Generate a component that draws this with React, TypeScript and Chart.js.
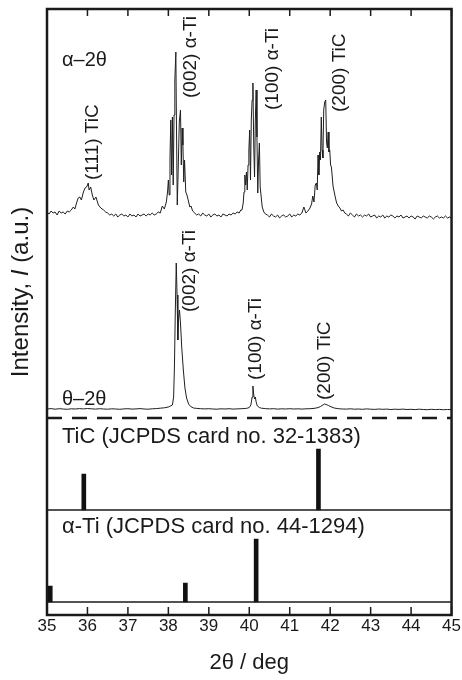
import React, { useEffect, useRef } from 'react';
import { Chart, registerables } from 'chart.js';

Chart.register(...registerables);

const FONT = '"Liberation Sans", Arial, Helvetica, sans-serif';
const INK = '#1a1a1a';

// ---- axis ----
const xTickValues = [35, 36, 37, 38, 39, 40, 41, 42, 43, 44, 45];

// ---- alpha-2theta pattern (angle, intensity a.u.) ----
const alphaAngle = [
  35.00, 35.05, 35.10, 35.15, 35.20, 35.25, 35.30, 35.35, 35.40, 35.45, 35.50, 35.55, 35.60,
  35.65, 35.69, 35.73, 35.77, 35.81, 35.85, 35.90, 35.94, 35.98, 36.02, 36.04, 36.08, 36.12, 36.16, 36.21, 36.27, 36.33, 36.40, 36.45,
  36.50, 36.55, 36.60, 36.65, 36.70, 36.75, 36.80, 36.85, 36.90, 36.95, 37.00, 37.05, 37.10, 37.15, 37.20, 37.25, 37.30, 37.35, 37.40, 37.45, 37.50, 37.55, 37.60, 37.65, 37.70, 37.75, 37.80, 37.85, 37.90,
  37.95, 37.98, 38.00, 38.02, 38.04, 38.06, 38.08, 38.10, 38.12, 38.14, 38.16, 38.185, 38.20, 38.22, 38.24, 38.27, 38.30, 38.32, 38.34, 38.36, 38.38, 38.40, 38.43, 38.46, 38.49, 38.53, 38.56, 38.60,
  38.65, 38.70, 38.75, 38.80, 38.85, 38.90, 38.95, 39.00, 39.05, 39.10, 39.15, 39.20, 39.25, 39.30, 39.35, 39.40, 39.45, 39.50, 39.55, 39.60, 39.65, 39.70, 39.75, 39.79,
  39.82, 39.85, 39.87, 39.89, 39.91, 39.93, 39.95, 39.97, 39.99, 40.01, 40.03, 40.05, 40.07, 40.09, 40.11, 40.13, 40.15, 40.17, 40.19, 40.21, 40.23, 40.25, 40.27, 40.29, 40.32, 40.36, 40.40,
  40.45, 40.50, 40.55, 40.60, 40.65, 40.70, 40.75, 40.80, 40.85, 40.90, 40.95, 41.00, 41.05, 41.10, 41.15, 41.20, 41.25, 41.30, 41.35, 41.40, 41.45, 41.50,
  41.54, 41.57, 41.60, 41.63, 41.66, 41.68, 41.70, 41.72, 41.74, 41.76, 41.78, 41.80, 41.82, 41.84, 41.865, 41.89, 41.91, 41.93, 41.95, 41.97, 41.99, 42.01, 42.03, 42.05, 42.07, 42.10, 42.13, 42.16, 42.20, 42.24, 42.28, 42.32, 42.36,
  42.40, 42.45, 42.50, 42.55, 42.60, 42.65, 42.70, 42.75, 42.80, 42.85, 42.90, 42.95, 43.00, 43.05, 43.10, 43.15, 43.20, 43.25, 43.30, 43.35, 43.40, 43.45, 43.50, 43.55, 43.60, 43.65, 43.70, 43.75, 43.80, 43.85, 43.90, 43.95,
  44.00, 44.05, 44.10, 44.15, 44.20, 44.25, 44.30, 44.35, 44.40, 44.45, 44.50, 44.55, 44.60, 44.65, 44.70, 44.75, 44.80, 44.85, 44.90, 44.95, 45.00,
];
const alphaCounts = [
  8, 6, 9, 7, 8, 5, 9, 7, 8, 6, 9, 8, 10,
  13, 11, 17, 22, 23, 20, 28, 32, 33, 37, 30, 33, 25, 20, 23, 15, 12, 10, 8,
  7, 5, 6, 4, 6, 3, 5, 6, 4, 5, 3, 6, 4, 5, 3, 6, 4, 5, 6, 4, 6, 5, 7, 5, 6, 8, 7, 14, 11,
  18, 28, 40, 25, 62, 100, 45, 103, 35, 105, 140, 168, 95, 15, 45, 98, 110, 55, 92, 75, 38, 60, 28, 25, 20, 13, 14, 9,
  7, 5, 6, 4, 7, 5, 4, 6, 3, 5, 6, 4, 5, 3, 6, 5, 4, 6, 5, 7, 6, 8, 7, 10,
  10, 17, 28, 45, 35, 48, 30, 55, 70, 90, 40, 100, 120, 137, 75, 43, 100, 130, 83, 27, 60, 77, 33, 25, 13, 8, 6,
  5, 3, 6, 4, 3, 5, 2, 4, 5, 3, 4, 6, 3, 5, 4, 6, 5, 7, 13, 7, 9, 12,
  16, 24, 18, 35, 37, 30, 65, 45, 68, 60, 103, 70, 62, 110, 118, 120, 78, 72, 88, 68, 70, 55, 53, 44, 34, 28, 22, 17, 14, 12, 9, 10, 7,
  6, 4, 7, 5, 3, 6, 4, 5, 3, 5, 4, 6, 3, 4, 5, 2, 4, 3, 5, 2, 4, 3, 5, 4, 2, 4, 3, 5, 2, 3, 4, 2,
  4, 3, 1, 4, 3, 2, 4, 3, 2, 4, 3, 1, 3, 4, 2, 3, 2, 4, 2, 3, 2,
];

// ---- theta-2theta pattern (angle, intensity a.u.) ----
const thetaAngle = [
  35.0, 35.1, 35.2, 35.3, 35.4, 35.5, 35.6, 35.7, 35.8, 35.9, 36.0, 36.1, 36.2, 36.3, 36.4, 36.5, 36.6, 36.7, 36.8, 36.9,
  37.0, 37.1, 37.2, 37.3, 37.4, 37.5, 37.6, 37.7, 37.8, 37.9, 38.0, 38.05, 38.10, 38.13, 38.15, 38.17, 38.195, 38.215, 38.235, 38.25,
  38.275, 38.30, 38.33, 38.37, 38.41, 38.45, 38.50, 38.55, 38.62, 38.7, 38.8, 38.9, 39.0, 39.1, 39.2, 39.3, 39.4, 39.5, 39.6, 39.7,
  39.8, 39.9, 39.95, 40.00, 40.04, 40.07, 40.09, 40.11, 40.13, 40.15, 40.17, 40.20, 40.25, 40.3, 40.4, 40.5, 40.6, 40.7, 40.8, 40.9,
  41.0, 41.1, 41.2, 41.3, 41.4, 41.5, 41.6, 41.7, 41.76, 41.82, 41.86, 41.90, 41.96, 42.02, 42.1, 42.2, 42.3, 42.4, 42.5, 42.6,
  42.7, 42.8, 42.9, 43.0, 43.1, 43.2, 43.3, 43.4, 43.5, 43.6, 43.7, 43.8, 43.9, 44.0, 44.1, 44.2, 44.3, 44.4, 44.5, 44.6,
  44.7, 44.8, 44.9, 45.0,
];
const thetaCounts = [
  6, 6.4, 5.8, 6.3, 6, 5.7, 6.2, 6, 6.4, 6.1, 6.5, 6.2, 5.9, 6.3, 6, 5.8, 6.2, 6, 5.7, 6.1,
  6.3, 5.9, 6.1, 6.4, 6, 5.8, 6.2, 6.4, 6.8, 7.2, 8, 9, 10, 18, 48, 100, 152, 120, 75, 95,
  105, 92, 68, 45, 27, 17, 11, 8.5, 7, 6.6, 6.3, 6.1, 6.3, 6, 5.8, 6.2, 6, 6.3, 5.9, 6.1,
  6.3, 6.5, 6.8, 7.5, 10, 18, 29, 20, 16, 18, 13, 9, 7.5, 6.8, 6.4, 6.1, 6.3, 5.9, 6.2, 6,
  6.3, 6, 6.2, 5.9, 6.2, 6.3, 6.6, 7.4, 8.5, 10, 11, 10.5, 9.5, 8.2, 7, 6.3, 6, 5.9, 6.2, 5.8,
  6, 5.7, 6.1, 5.8, 5.6, 6, 5.7, 5.9, 5.5, 5.8, 5.6, 5.9, 5.5, 5.7, 5.4, 5.8, 5.5, 5.3, 5.7, 5.4,
  5.6, 5.3, 5.5, 5.4,
];

// ---- JCPDS reference cards ----
const ticCardAngle = [35.91, 41.71];
const ticCardIntensity = [36, 61];
const tiCardAngle = [35.08, 38.42, 40.17];
const tiCardIntensity = [16, 19, 63];

// ---- stacking levels (a.u.) ----
const ALPHA_OFFSET = 395;
const THETA_OFFSET = 200;
const DASH_LEVEL = 197;
const TIC_BASE = 105;
const TI_BASE = 13;
const Y_MAX = 606;

// ---- annotations ----
const peakLabelText = ['(111) TiC', '(002) α-Ti', '(100) α-Ti', '(200) TiC', '(002) α-Ti', '(100) α-Ti', '(200) TiC'];
const peakLabelAngle = [36.12, 38.55, 40.57, 42.23, 38.53, 40.16, 41.86];
const peakLabelLevel = [435, 517, 505, 503, 303, 235, 215];

const panelLabelText = ['α–2θ', 'θ–2θ'];
const panelLabelLevel = [549, 210.5];
const cardLabelText = ['TiC (JCPDS card no. 32-1383)', 'α-Ti (JCPDS card no. 44-1294)'];
const cardLabelLevel = [172, 82];
const LABEL_ANGLE = 35.37;

const annotPlugin = {
  id: 'annot',
  afterDatasetsDraw(chart: any) {
    const { ctx, chartArea: a, scales } = chart;
    const x = scales.x;
    const y = scales.y;
    ctx.save();
    // frame
    ctx.strokeStyle = INK;
    ctx.lineWidth = 2.5;
    ctx.strokeRect(a.left, a.top, a.right - a.left, a.bottom - a.top);
    // inward ticks top & bottom
    ctx.lineWidth = 1.5;
    for (const v of xTickValues) {
      const px = x.getPixelForValue(v);
      ctx.beginPath();
      ctx.moveTo(px, a.bottom);
      ctx.lineTo(px, a.bottom - 8);
      ctx.moveTo(px, a.top);
      ctx.lineTo(px, a.top + 7);
      ctx.stroke();
    }
    ctx.fillStyle = INK;
    // rotated peak labels
    ctx.font = `19px ${FONT}`;
    ctx.textAlign = 'left';
    ctx.textBaseline = 'middle';
    peakLabelText.forEach((t, i) => {
      ctx.save();
      ctx.translate(x.getPixelForValue(peakLabelAngle[i]), y.getPixelForValue(peakLabelLevel[i]));
      ctx.rotate(-Math.PI / 2);
      ctx.fillText(t, 0, 0);
      ctx.restore();
    });
    // panel labels
    ctx.textBaseline = 'alphabetic';
    ctx.font = `20px ${FONT}`;
    panelLabelText.forEach((t, i) => {
      ctx.fillText(t, x.getPixelForValue(LABEL_ANGLE), y.getPixelForValue(panelLabelLevel[i]));
    });
    ctx.font = `22px ${FONT}`;
    cardLabelText.forEach((t, i) => {
      ctx.fillText(t, x.getPixelForValue(LABEL_ANGLE), y.getPixelForValue(cardLabelLevel[i]));
    });
    // y-axis title with italic I
    const parts = [
      { t: 'Intensity, ', f: `24px ${FONT}` },
      { t: 'I', f: `italic 24px ${FONT}` },
      { t: ' (a.u.)', f: `24px ${FONT}` },
    ];
    let total = 0;
    const widths = parts.map((p) => {
      ctx.font = p.f;
      const w = ctx.measureText(p.t).width;
      total += w;
      return w;
    });
    ctx.save();
    ctx.translate(a.left - 26, (a.top + a.bottom) / 2 - 20);
    ctx.rotate(-Math.PI / 2);
    ctx.textBaseline = 'middle';
    let cx = -total / 2;
    parts.forEach((p, i) => {
      ctx.font = p.f;
      ctx.fillText(p.t, cx, 0);
      cx += widths[i];
    });
    ctx.restore();
    ctx.restore();
  },
};

export default function App() {
  const canvasRef = useRef<HTMLCanvasElement | null>(null);

  useEffect(() => {
    const canvas = canvasRef.current;
    if (!canvas) return;
    const hline = (level: number) => [
      { x: 35, y: level },
      { x: 45, y: level },
    ];
    const sticks = [
      ...ticCardAngle.map((ang, i) => ({ x: ang, y: [TIC_BASE, TIC_BASE + ticCardIntensity[i]] })),
      ...tiCardAngle.map((ang, i) => ({ x: ang, y: [TI_BASE, TI_BASE + tiCardIntensity[i]] })),
    ];
    const chart = new Chart(canvas, {
      type: 'line',
      data: {
        datasets: [
          {
            label: 'α–2θ',
            data: alphaAngle.map((ang, i) => ({ x: ang, y: alphaCounts[i] + ALPHA_OFFSET })),
            borderColor: '#202020',
            borderWidth: 1,
            pointRadius: 0,
            tension: 0,
          },
          {
            label: 'θ–2θ',
            data: thetaAngle.map((ang, i) => ({ x: ang, y: thetaCounts[i] + THETA_OFFSET })),
            borderColor: '#202020',
            borderWidth: 1,
            pointRadius: 0,
            tension: 0,
          },
          {
            label: 'separator',
            data: hline(DASH_LEVEL),
            borderColor: INK,
            borderWidth: 2.5,
            borderDash: [15, 10],
            pointRadius: 0,
          },
          {
            label: 'TiC base',
            data: hline(TIC_BASE),
            borderColor: INK,
            borderWidth: 1.5,
            pointRadius: 0,
          },
          {
            label: 'Ti base',
            data: hline(TI_BASE),
            borderColor: INK,
            borderWidth: 1.5,
            pointRadius: 0,
          },
          {
            type: 'bar',
            label: 'JCPDS',
            data: sticks as any,
            backgroundColor: '#111',
            barThickness: 4,
            grouped: false,
          } as any,
        ],
      },
      options: {
        animation: false,
        responsive: false,
        events: [],
        layout: { padding: { left: 47, right: 10, top: 9, bottom: 0 } },
        plugins: { legend: { display: false }, tooltip: { enabled: false } },
        scales: {
          x: {
            type: 'linear',
            min: 35,
            max: 45,
            offset: false,
            afterBuildTicks: (s: any) => {
              s.ticks = xTickValues.map((v) => ({ value: v }));
            },
            ticks: {
              font: { family: FONT, size: 17 },
              color: INK,
              padding: 1,
              maxRotation: 0,
              autoSkip: false,
            },
            grid: { display: false, drawTicks: false },
            border: { display: false },
            title: {
              display: true,
              text: '2θ / deg',
              font: { family: FONT, size: 22 },
              color: INK,
              padding: { top: 0, bottom: 4 },
            },
            afterFit: (s: any) => {
              s.height = 65;
            },
          },
          y: {
            type: 'linear',
            min: 0,
            max: Y_MAX,
            display: false,
          },
        },
      } as any,
      plugins: [annotPlugin],
    });
    return () => chart.destroy();
  }, []);

  return (
    <div style={{ position: 'absolute', left: 0, top: 0, width: 462, height: 680, background: '#fff' }}>
      <canvas ref={canvasRef} width={462} height={680} />
    </div>
  );
}
